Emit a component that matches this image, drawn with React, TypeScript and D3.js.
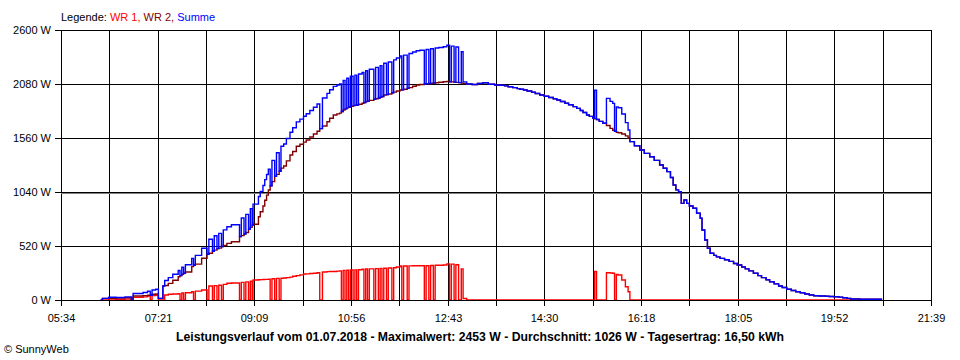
import React from "react";
import * as d3 from "d3";

// Messzeitpunkte (hh:mm) und Leistung in W
const zeit = [
  "06:18", "06:20", "06:27", "06:35", "06:45", "06:52", "06:54", "07:05", "07:10", "07:13",
  "07:15", "07:19", "07:22", "07:27", "07:29", "07:33", "07:38", "07:44", "07:46", "07:48",
  "07:50", "07:52", "07:59", "08:01", "08:03", "08:10", "08:16", "08:18", "08:22", "08:24",
  "08:27", "08:29", "08:32", "08:34", "08:38", "08:43", "08:52", "08:54", "08:57", "08:59",
  "09:02", "09:04", "09:06", "09:07", "09:13", "09:15", "09:18", "09:20", "09:22", "09:24",
  "09:26", "09:28", "09:31", "09:33", "09:36", "09:38", "09:41", "09:44", "09:48", "09:51",
  "09:55", "09:59", "10:03", "10:06", "10:10", "10:14", "10:18", "10:21", "10:24", "10:29",
  "10:32", "10:36", "10:40", "10:43", "10:45", "10:47", "10:49", "10:51", "10:53", "10:55",
  "10:58", "11:00", "11:02", "11:04", "11:08", "11:10", "11:12", "11:14", "11:16", "11:21",
  "11:23", "11:26", "11:28", "11:30", "11:32", "11:35", "11:37", "11:41", "11:43", "11:46",
  "11:50", "11:52", "11:54", "11:58", "12:00", "12:04", "12:08", "12:12", "12:17", "12:19",
  "12:22", "12:24", "12:27", "12:29", "12:33", "12:38", "12:42", "12:45", "12:47", "12:50",
  "12:52", "12:55", "12:58", "13:00", "13:04", "13:10", "13:16", "13:22", "13:28", "13:35",
  "13:41", "13:46", "13:50", "13:55", "14:00", "14:03", "14:07", "14:11", "14:16", "14:20",
  "14:25", "14:30", "14:35", "14:40", "14:44", "14:48", "14:53", "14:57", "15:02", "15:06",
  "15:10", "15:13", "15:17", "15:20", "15:24", "15:26", "15:28", "15:31", "15:35", "15:39",
  "15:43", "15:46", "15:48", "15:50", "15:52", "15:56", "16:00", "16:03", "16:05", "16:10",
  "16:16", "16:21", "16:27", "16:32", "16:38", "16:42", "16:46", "16:50", "16:53", "16:56",
  "16:59", "17:02", "17:05", "17:08", "17:11", "17:15", "17:19", "17:23", "17:25", "17:28",
  "17:31", "17:34", "17:38", "17:41", "17:45", "17:50", "17:55", "18:00", "18:04", "18:09",
  "18:13", "18:17", "18:22", "18:27", "18:31", "18:36", "18:40", "18:45", "18:50", "18:54",
  "18:59", "19:04", "19:09", "19:14", "19:19", "19:24", "19:29", "19:35", "19:42", "19:46",
  "19:51", "19:57", "20:01", "20:06", "20:10", "20:20", "20:30", "20:44",
];

const wr1 = [
  0, 0, 10, 6, 8, 0, 25, 30, 38, 0,
  42, 45, 0, 0, 48, 55, 58, 60, 0, 68,
  0, 70, 80, 0, 85, 96, 0, 135, 0, 138,
  0, 142, 0, 150, 161, 163, 0, 170, 0, 175,
  0, 180, 0, 193, 195, 196, 198, 199, 199, 200,
  0, 205, 0, 208, 0, 210, 212, 215, 220, 228,
  235, 242, 250, 252, 255, 258, 263, 0, 270, 273,
  274, 275, 278, 280, 0, 285, 0, 286, 0, 289,
  0, 290, 0, 292, 296, 0, 298, 0, 300, 0,
  302, 0, 305, 0, 306, 0, 308, 0, 310, 318,
  327, 0, 328, 0, 329, 330, 330, 330, 0, 330,
  0, 332, 0, 334, 335, 337, 348, 0, 345, 0,
  340, 0, 300, 15, 0, 0, 0, 0, 0, 0,
  0, 0, 0, 0, 0, 0, 0, 0, 0, 0,
  0, 0, 0, 0, 0, 0, 0, 0, 0, 0,
  0, 0, 0, 0, 0, 275, 0, 0, 0, 262,
  260, 258, 0, 245, 241, 193, 128, 80, 0, 0,
  0, 0, 0, 0, 0, 0, 0, 0, 0, 0,
  0, 0, 0, 0, 0, 0, 0, 0, 0, 0,
  0, 0, 0, 0, 0, 0, 0, 0, 0, 0,
  0, 0, 0, 0, 0, 0, 0, 0, 0, 0,
  0, 0, 0, 0, 0, 0, 0, 0, 0, 0,
  0, 0, 0, 0, 0, 0, 0, 0,
];

const wr2 = [
  0, 16, 16, 18, 22, 8, 38, 42, 46, 46,
  55, 58, 16, 135, 140, 160, 190, 224, 235, 248,
  258, 270, 321, 335, 345, 402, 440, 450, 470, 480,
  495, 500, 515, 525, 545, 561, 610, 620, 635, 650,
  680, 700, 720, 730, 802, 850, 905, 960, 1010, 1059,
  1100, 1140, 1190, 1210, 1240, 1270, 1290, 1340, 1396, 1430,
  1480, 1500, 1520, 1541, 1570, 1598, 1625, 1650, 1675, 1717,
  1750, 1782, 1792, 1800, 1815, 1830, 1840, 1850, 1858, 1865,
  1872, 1875, 1878, 1885, 1895, 1902, 1910, 1915, 1922, 1933,
  1938, 1945, 1952, 1960, 1974, 1978, 1984, 1996, 2002, 2012,
  2022, 2025, 2030, 2038, 2045, 2058, 2070, 2075, 2080, 2082,
  2085, 2087, 2090, 2092, 2097, 2102, 2105, 2102, 2100, 2098,
  2096, 2093, 2090, 2085, 2080, 2075, 2085, 2092, 2078, 2070,
  2068, 2062, 2054, 2045, 2035, 2030, 2022, 2012, 2000, 1988,
  1974, 1962, 1950, 1938, 1926, 1912, 1895, 1880, 1862, 1845,
  1825, 1805, 1782, 1768, 1750, 1745, 1738, 1720, 1702, 1680,
  1653, 1635, 1625, 1615, 1610, 1598, 1580, 1557, 1525, 1485,
  1444, 1412, 1380, 1345, 1300, 1268, 1236, 1180, 1107, 1060,
  1043, 930, 963, 930, 905, 883, 835, 787, 674, 578,
  498, 450, 430, 415, 401, 388, 372, 352, 337, 318,
  300, 280, 257, 235, 215, 195, 176, 155, 135, 120,
  103, 92, 80, 70, 58, 48, 41, 38, 36, 34,
  32, 28, 22, 16, 10, 7, 7, 0,
];

const summe = [
  0, 16, 26, 24, 30, 8, 63, 72, 84, 46,
  97, 103, 16, 135, 188, 215, 248, 284, 235, 316,
  258, 340, 401, 335, 430, 498, 440, 585, 470, 618,
  495, 642, 515, 675, 706, 724, 610, 790, 635, 825,
  680, 880, 720, 923, 997, 1046, 1103, 1159, 1209, 1259,
  1100, 1345, 1190, 1418, 1240, 1480, 1502, 1555, 1616, 1658,
  1715, 1742, 1770, 1793, 1825, 1856, 1888, 1650, 1945, 1990,
  2024, 2057, 2070, 2080, 1815, 2115, 1840, 2136, 1858, 2154,
  1872, 2165, 1878, 2177, 2191, 1902, 2208, 1915, 2222, 1933,
  2240, 1945, 2257, 1960, 2280, 1978, 2292, 1996, 2312, 2330,
  2349, 2025, 2358, 2038, 2374, 2388, 2400, 2405, 2080, 2412,
  2085, 2419, 2090, 2426, 2432, 2439, 2453, 2102, 2445, 2098,
  2436, 2093, 2390, 2100, 2080, 2075, 2085, 2092, 2078, 2070,
  2068, 2062, 2054, 2045, 2035, 2030, 2022, 2012, 2000, 1988,
  1974, 1962, 1950, 1938, 1926, 1912, 1895, 1880, 1862, 1845,
  1825, 1805, 1782, 1768, 1750, 2020, 1738, 1720, 1702, 1942,
  1913, 1893, 1625, 1860, 1851, 1791, 1708, 1637, 1525, 1485,
  1444, 1412, 1380, 1345, 1300, 1268, 1236, 1180, 1107, 1060,
  1043, 930, 963, 930, 905, 883, 835, 787, 674, 578,
  498, 450, 430, 415, 401, 388, 372, 352, 337, 318,
  300, 280, 257, 235, 215, 195, 176, 155, 135, 120,
  103, 92, 80, 70, 58, 48, 41, 38, 36, 34,
  32, 28, 22, 16, 10, 7, 7, 0,
];

const xTickLabels = ["05:34", "07:21", "09:09", "10:56", "12:43", "14:30", "16:18", "18:05", "19:52", "21:39"];
const yTicks = [0, 520, 1040, 1560, 2080, 2600];

const minuten = (s: string) => +s.slice(0, 2) * 60 + +s.slice(3, 5);

const W = 960;
const H = 360;
const left = 61;
const right = 931;
const top = 30;
const bottom = 300;
const FONT = "'Liberation Sans', Arial, sans-serif";

export default function App() {
  const start = minuten(xTickLabels[0]);
  const ende = minuten(xTickLabels[xTickLabels.length - 1]);
  const x = d3.scaleLinear().domain([start, ende]).range([left, right]);
  const y = d3.scaleLinear().domain([0, 2600]).range([bottom, top]);

  // 18 Rasterlinien, jede zweite beschriftet
  const gridX = d3.range(19).map((i) => Math.round(x(start + (i * (ende - start)) / 18)) + 0.5);
  const t = zeit.map(minuten);

  const line = d3
    .line<number>()
    .x((_, i) => x(t[i]))
    .y((v) => y(v))
    .curve(d3.curveStepAfter);

  const yb = Math.round(y(0)) + 0.5;

  return (
    <svg
      width={W}
      height={H}
      style={{ position: "absolute", left: 0, top: 0, background: "#fff" }}
      fontFamily={FONT}
    >
      <rect width={W} height={H} fill="#fff" />

      {/* Legende */}
      <text x={61} y={21} fontSize={11}>
        <tspan fill="#000">Legende: </tspan>
        <tspan fill="#ff0000">WR 1, </tspan>
        <tspan fill="#800000">WR 2, </tspan>
        <tspan fill="#0000ff">Summe</tspan>
      </text>

      {/* Raster */}
      <g shapeRendering="crispEdges" stroke="#000" strokeWidth={1}>
        {gridX.map((gx, i) => (
          <line key={"v" + i} x1={gx} x2={gx} y1={Math.round(y(2600)) + 0.5} y2={yb + 5} />
        ))}
        {yTicks.map((v) => {
          const gy = Math.round(y(v)) + 0.5;
          return <line key={"h" + v} x1={left - 6} x2={right + 0.5} y1={gy} y2={gy} />;
        })}
        <line
          x1={left}
          x2={right}
          y1={Math.round(y(1040)) + 1.5}
          y2={Math.round(y(1040)) + 1.5}
          stroke="#808080"
        />
      </g>

      {/* Kurven */}
      <g fill="none" strokeWidth={1.4}>
        <path d={line(wr1) ?? ""} stroke="#ff0000" />
        <path d={line(wr2) ?? ""} stroke="#800000" />
        <path d={line(summe) ?? ""} stroke="#0000ff" />
      </g>

      {/* Nulllinie oben drauf */}
      <line x1={left} x2={right + 0.5} y1={yb} y2={yb} stroke="#000" shapeRendering="crispEdges" />

      {/* Achsenbeschriftung */}
      <g fontSize={11} fill="#000">
        {yTicks.map((v) => (
          <text key={"yl" + v} x={51} y={y(v) + 4} textAnchor="end">
            {v} W
          </text>
        ))}
        {xTickLabels.map((s, i) => (
          <text key={"xl" + s} x={gridX[i * 2]} y={322} textAnchor="middle">
            {s}
          </text>
        ))}
      </g>

      <text
        x={480}
        y={341}
        fontSize={12}
        fontWeight="bold"
        textAnchor="middle"
        fill="#000"
        textLength={608}
        lengthAdjust="spacingAndGlyphs"
      >
        Leistungsverlauf vom 01.07.2018 - Maximalwert: 2453 W - Durchschnitt: 1026 W - Tagesertrag: 16,50 kWh
      </text>
      <text x={4} y={353} fontSize={11} fill="#000">
        © SunnyWeb
      </text>
    </svg>
  );
}
